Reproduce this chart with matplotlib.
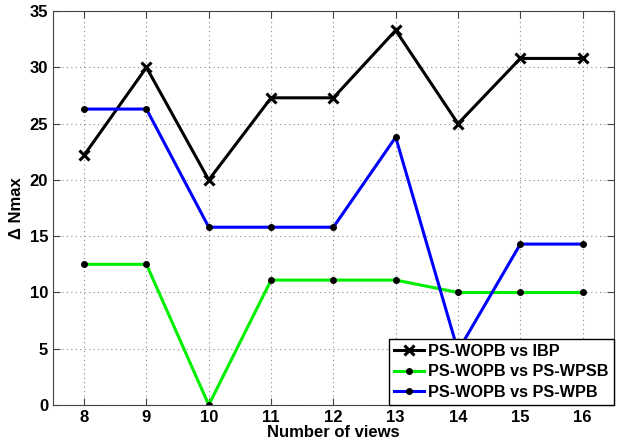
import matplotlib
matplotlib.use('Agg')
import matplotlib.pyplot as plt

# 数据
views = [8, 9, 10, 11, 12, 13, 14, 15, 16]
ibp = [22.2, 30.0, 20.0, 27.3, 27.3, 33.3, 25.0, 30.8, 30.8]
wpsb = [12.5, 12.5, 0.0, 11.1, 11.1, 11.1, 10.0, 10.0, 10.0]
wpb = [26.3, 26.3, 15.8, 15.8, 15.8, 23.8, 4.8, 14.3, 14.3]
labels = ['PS-WOPB vs IBP', 'PS-WOPB vs PS-WPSB', 'PS-WOPB vs PS-WPB']

plt.rcParams['font.family'] = ['Liberation Sans', 'DejaVu Sans']
plt.rcParams['font.weight'] = 'bold'

fig = plt.figure(figsize=(6.19, 4.47), dpi=100)
ax = fig.add_axes([0.0856, 0.094, 0.906, 0.881])

ax.plot(views, ibp, color='black', lw=2.2, marker='x', ms=7, mew=2.2, label=labels[0])
ax.plot(views, wpsb, color='#00ee00', lw=2.2, marker='o', ms=4, mfc='black', mec='black', label=labels[1])
ax.plot(views, wpb, color='#0000ff', lw=2.2, marker='o', ms=4, mfc='black', mec='black', label=labels[2])

ax.set_xlim(7.5, 16.5)
ax.set_ylim(0, 35)
ax.set_xticks(views)
ax.set_yticks(range(0, 36, 5))
ax.tick_params(direction='in', top=True, right=True, labelsize=12, length=5, colors='#444444', labelcolor='black')
for s in ax.spines.values():
    s.set_color('#444444')
ax.grid(True, linestyle=(0, (1, 3)), color='#888888', linewidth=0.8)

ax.set_xlabel('Number of views', fontsize=12, fontweight='bold', labelpad=0)
ax.set_ylabel('Δ Nmax', fontsize=12, fontweight='bold', labelpad=4)

leg = ax.legend(loc='lower right', fontsize=11.7, borderaxespad=0, fancybox=False,
                framealpha=1, edgecolor='black', handlelength=1.8, borderpad=0.3,
                labelspacing=0.35, handletextpad=0.3)
leg.get_frame().set_linewidth(1.0)

fig.savefig('out.png', dpi=100)
